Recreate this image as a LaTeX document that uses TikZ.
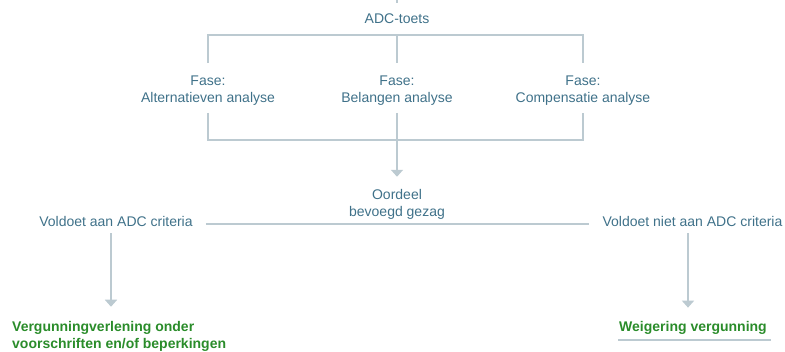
\documentclass[tikz,border=0pt]{standalone}
\usepackage{fontspec}
\setmainfont{Liberation Sans}
\usetikzlibrary{arrows.meta}
\definecolor{txtblue}{HTML}{3F7189}
\definecolor{txtgreen}{HTML}{2A8C2A}
\definecolor{linegray}{HTML}{BCCAD1}
\begin{document}
\begin{tikzpicture}[x=1pt,y=-1pt,
  lbl/.style={inner sep=0pt, text=txtblue, font=\fontsize{14}{17}\selectfont, align=center},
  res/.style={inner sep=0pt, text=txtgreen, font=\fontsize{14}{17}\selectfont\bfseries},
  conn/.style={draw=linegray, line width=1.8pt},
  arr/.style={conn, -{Triangle[width=12pt,length=7pt]}}]
\useasboundingbox (0,0) rectangle (785,352);
% nodes
\node[lbl, anchor=base] (adc) at (397,24) {ADC-toets};
\node[lbl] (f1) at (208,91) {Fase:\\Alternatieven analyse};
\node[lbl] (f2) at (397,91) {Fase:\\Belangen analyse};
\node[lbl] (f3) at (583,91) {Fase:\\Compensatie analyse};
\node[lbl] (oord) at (397,204) {Oordeel\\bevoegd gezag};
\node[lbl, anchor=base] (ok) at (116,227) {Voldoet aan ADC criteria};
\node[lbl, anchor=base] (nok) at (692.5,227) {Voldoet niet aan ADC criteria};
\node[res, anchor=west, align=left] (g1) at (12,336) {Vergunningverlening onder\\voorschriften en/of beperkingen};
\node[res, anchor=base] (g2) at (693,332) {Weigering vergunning};
\coordinate (top) at (397,0);
\coordinate (jt) at (397,35);
\coordinate (jb) at (397,140);
% connectors
\draw[conn] (top) -- ([yshift=-3.5pt]top);
\draw[conn, shorten <=13pt, shorten >=13pt] (f1.north) |- (jt) -| (f3.north);
\draw[conn, shorten >=13pt] (jt) -- (f2.north);
\draw[conn, shorten <=7pt, shorten >=7pt] (f1.south) |- (jb) -| (f3.south);
\draw[conn, shorten <=7pt] (f2.south) -- (jb);
\draw[arr, shorten >=12pt] (jb) -- (oord.north);
\draw[conn, shorten <=13pt, shorten >=13pt] ([yshift=-2pt]ok.east) -- ([yshift=-2pt]nok.west);
\draw[arr, shorten <=6pt, shorten >=14pt] ([xshift=-5pt]ok.south) -- ([xshift=-5pt]ok.south |- g1.north);
\draw[arr, shorten <=6pt, shorten >=14pt] ([xshift=-4.5pt]nok.south) -- ([xshift=-4.5pt]nok.south |- g2.north);
\draw[conn] ([xshift=-1pt,yshift=-5pt]g2.south west) -- ([xshift=4pt,yshift=-5pt]g2.south east);
\end{tikzpicture}
\end{document}
